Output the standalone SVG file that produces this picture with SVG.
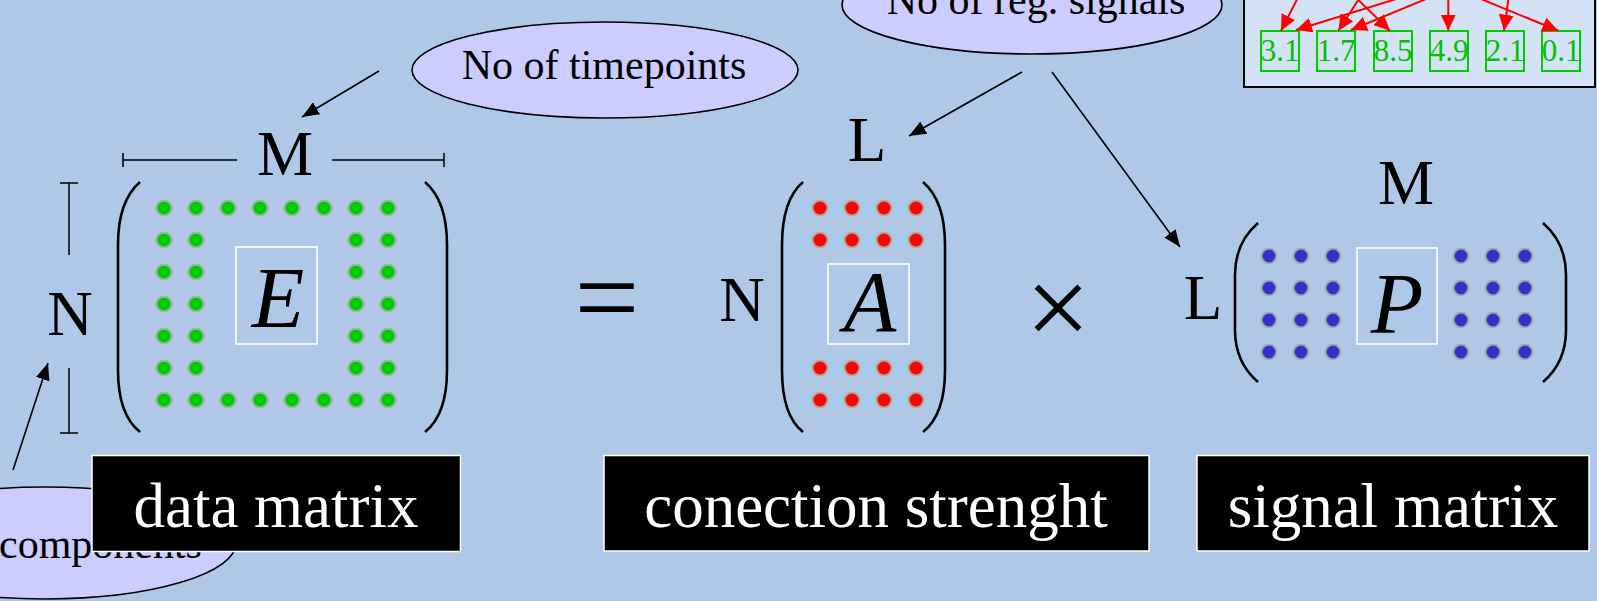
<svg xmlns="http://www.w3.org/2000/svg" width="1597" height="601" viewBox="0 0 1597 601">
<defs>
<style>
.serif{font-family:"Liberation Serif","Times New Roman",serif;}
.ell{fill:#CCCCFF;stroke:#000;stroke-width:1.6;}
.ellt{font-size:42px;fill:#000;}
.lbl{font-size:63px;fill:#000;}
.big{font-size:86px;font-style:italic;fill:#000;}
.op{font-size:115px;fill:#000;}
.paren{fill:none;stroke:#000;stroke-width:2.6;}
.box{fill:none;stroke:#FFFFFF;stroke-width:1.6;}
.g{fill:#00CC00;stroke:#A8ADA4;stroke-width:2;}
.r{fill:#FF0000;stroke:#A8ADA4;stroke-width:2;}
.b{fill:#3333CC;stroke:#A8ADA4;stroke-width:2;}
.dim{stroke:#000;stroke-width:1.5;fill:none;}
.blk{fill:#000;stroke:#FFFFFF;stroke-width:1.5;}
.blkt{font-size:63px;fill:#FFFFFF;text-anchor:middle;}
.gb{fill:none;stroke:#00CC00;stroke-width:2;}
.gt{font-size:31px;fill:#00C000;text-anchor:middle;}
.ka{stroke:#000;stroke-width:1.6;fill:none;marker-end:url(#ah);}
.ra{stroke:#FF0000;stroke-width:2;fill:none;marker-end:url(#rh);}
</style>
<marker id="ah" markerUnits="userSpaceOnUse" markerWidth="18" markerHeight="14" refX="17" refY="7" orient="auto">
<path d="M0,0 L17,7 L0,14 z" fill="#000"/>
</marker>
<marker id="rh" markerUnits="userSpaceOnUse" markerWidth="17" markerHeight="15" refX="16" refY="7.5" orient="auto">
<path d="M0,0 L16,7.5 L0,15 z" fill="#FF0000"/>
</marker>
</defs>
<rect x="0" y="0" width="1597" height="601" fill="#B0C8E8"/>

<g id="network">
<rect x="1244" y="-10" width="351" height="97" fill="#D3E3F5" stroke="#000" stroke-width="2"/>
<g id="n31"><rect class="gb" x="1261" y="31" width="38" height="40"/><text class="serif gt" x="1280" y="61">3.1</text></g>
<g id="n17"><rect class="gb" x="1317" y="31" width="38" height="40"/><text class="serif gt" x="1336" y="61">1.7</text></g>
<g id="n85"><rect class="gb" x="1374" y="31" width="38" height="40"/><text class="serif gt" x="1393" y="61">8.5</text></g>
<g id="n49"><rect class="gb" x="1430" y="31" width="38" height="40"/><text class="serif gt" x="1449" y="61">4.9</text></g>
<g id="n21"><rect class="gb" x="1486" y="31" width="38" height="40"/><text class="serif gt" x="1505" y="61">2.1</text></g>
<g id="n01"><rect class="gb" x="1542" y="31" width="38" height="40"/><text class="serif gt" x="1561" y="61">0.1</text></g>
</g>

<g id="ell-components">
<ellipse class="ell" cx="45" cy="543" rx="191" ry="56"/>
<text class="serif ellt" x="-1" y="558">components</text>
</g>
<g id="ell-timepoints">
<ellipse class="ell" cx="605" cy="70" rx="193" ry="48"/>
<text class="serif ellt" x="604" y="79" text-anchor="middle">No of timepoints</text>
</g>
<g id="ell-signals">
<ellipse class="ell" cx="1032" cy="5" rx="190" ry="49"/>
<text class="serif ellt" x="1036" y="14" text-anchor="middle">No of reg. signals</text>
</g>

<g id="matrix-E">
<path class="paren" d="M140,182 C126,194 118,215 118,245 L118,370 C118,400 126,421 140,432"/>
<path class="paren" d="M425,182 C439,194 447,215 447,245 L447,370 C447,400 439,421 425,432"/>
<g>
<circle class="g" cx="164" cy="208" r="7.5"/><circle class="g" cx="196" cy="208" r="7.5"/><circle class="g" cx="228" cy="208" r="7.5"/><circle class="g" cx="260" cy="208" r="7.5"/><circle class="g" cx="292" cy="208" r="7.5"/><circle class="g" cx="324" cy="208" r="7.5"/><circle class="g" cx="356" cy="208" r="7.5"/><circle class="g" cx="388" cy="208" r="7.5"/>
<circle class="g" cx="164" cy="240" r="7.5"/><circle class="g" cx="196" cy="240" r="7.5"/><circle class="g" cx="356" cy="240" r="7.5"/><circle class="g" cx="388" cy="240" r="7.5"/>
<circle class="g" cx="164" cy="272" r="7.5"/><circle class="g" cx="196" cy="272" r="7.5"/><circle class="g" cx="356" cy="272" r="7.5"/><circle class="g" cx="388" cy="272" r="7.5"/>
<circle class="g" cx="164" cy="304" r="7.5"/><circle class="g" cx="196" cy="304" r="7.5"/><circle class="g" cx="356" cy="304" r="7.5"/><circle class="g" cx="388" cy="304" r="7.5"/>
<circle class="g" cx="164" cy="336" r="7.5"/><circle class="g" cx="196" cy="336" r="7.5"/><circle class="g" cx="356" cy="336" r="7.5"/><circle class="g" cx="388" cy="336" r="7.5"/>
<circle class="g" cx="164" cy="368" r="7.5"/><circle class="g" cx="196" cy="368" r="7.5"/><circle class="g" cx="356" cy="368" r="7.5"/><circle class="g" cx="388" cy="368" r="7.5"/>
<circle class="g" cx="164" cy="400" r="7.5"/><circle class="g" cx="196" cy="400" r="7.5"/><circle class="g" cx="228" cy="400" r="7.5"/><circle class="g" cx="260" cy="400" r="7.5"/><circle class="g" cx="292" cy="400" r="7.5"/><circle class="g" cx="324" cy="400" r="7.5"/><circle class="g" cx="356" cy="400" r="7.5"/><circle class="g" cx="388" cy="400" r="7.5"/>
</g>
<rect class="box" x="236" y="247" width="81" height="97"/>
<text class="serif big" x="278" y="327" text-anchor="middle">E</text>
<text class="serif lbl" x="70" y="335" text-anchor="middle">N</text>
<text class="serif lbl" x="285" y="175" text-anchor="middle">M</text>
<path class="dim" d="M60,183 H78 M69,183 V255 M69,368 V433 M60,433 H78"/>
<path class="dim" d="M123,160 H237 M332,160 H444 M123,153 V167 M444,153 V167"/>
</g>

<g id="equals"><text class="serif op" x="607" y="336" text-anchor="middle">=</text></g>

<g id="matrix-A">
<path class="paren" d="M803,182 C789,194 782,215 782,245 L782,370 C782,400 789,421 803,432"/>
<path class="paren" d="M923,182 C937,194 945,215 945,245 L945,370 C945,400 937,421 923,432"/>
<g>
<circle class="r" cx="820" cy="208" r="7.5"/><circle class="r" cx="852" cy="208" r="7.5"/><circle class="r" cx="884" cy="208" r="7.5"/><circle class="r" cx="916" cy="208" r="7.5"/>
<circle class="r" cx="820" cy="240" r="7.5"/><circle class="r" cx="852" cy="240" r="7.5"/><circle class="r" cx="884" cy="240" r="7.5"/><circle class="r" cx="916" cy="240" r="7.5"/>
<circle class="r" cx="820" cy="368" r="7.5"/><circle class="r" cx="852" cy="368" r="7.5"/><circle class="r" cx="884" cy="368" r="7.5"/><circle class="r" cx="916" cy="368" r="7.5"/>
<circle class="r" cx="820" cy="400" r="7.5"/><circle class="r" cx="852" cy="400" r="7.5"/><circle class="r" cx="884" cy="400" r="7.5"/><circle class="r" cx="916" cy="400" r="7.5"/>
</g>
<rect class="box" x="828" y="264" width="81" height="80"/>
<text class="serif big" x="870" y="331" text-anchor="middle">A</text>
<text class="serif lbl" x="742" y="321" text-anchor="middle">N</text>
<text class="serif lbl" x="867" y="161" text-anchor="middle">L</text>
</g>

<g id="times"><text class="serif op" x="1058" y="346" text-anchor="middle">×</text></g>

<g id="matrix-P">
<path class="paren" d="M1258,223 C1244,235 1235,252 1235,275 L1235,330 C1235,353 1244,370 1258,382"/>
<path class="paren" d="M1543,223 C1557,235 1566,252 1566,275 L1566,330 C1566,353 1557,370 1543,382"/>
<g>
<circle class="b" cx="1269" cy="256" r="7.5"/><circle class="b" cx="1301" cy="256" r="7.5"/><circle class="b" cx="1333" cy="256" r="7.5"/><circle class="b" cx="1461" cy="256" r="7.5"/><circle class="b" cx="1493" cy="256" r="7.5"/><circle class="b" cx="1525" cy="256" r="7.5"/>
<circle class="b" cx="1269" cy="288" r="7.5"/><circle class="b" cx="1301" cy="288" r="7.5"/><circle class="b" cx="1333" cy="288" r="7.5"/><circle class="b" cx="1461" cy="288" r="7.5"/><circle class="b" cx="1493" cy="288" r="7.5"/><circle class="b" cx="1525" cy="288" r="7.5"/>
<circle class="b" cx="1269" cy="320" r="7.5"/><circle class="b" cx="1301" cy="320" r="7.5"/><circle class="b" cx="1333" cy="320" r="7.5"/><circle class="b" cx="1461" cy="320" r="7.5"/><circle class="b" cx="1493" cy="320" r="7.5"/><circle class="b" cx="1525" cy="320" r="7.5"/>
<circle class="b" cx="1269" cy="352" r="7.5"/><circle class="b" cx="1301" cy="352" r="7.5"/><circle class="b" cx="1333" cy="352" r="7.5"/><circle class="b" cx="1461" cy="352" r="7.5"/><circle class="b" cx="1493" cy="352" r="7.5"/><circle class="b" cx="1525" cy="352" r="7.5"/>
</g>
<rect class="box" x="1357" y="248" width="80" height="96"/>
<text class="serif big" x="1397" y="333" text-anchor="middle">P</text>
<text class="serif lbl" x="1203" y="319" text-anchor="middle">L</text>
<text class="serif lbl" x="1406" y="204" text-anchor="middle">M</text>
</g>

<g id="label-data">
<rect class="blk" x="92" y="455.5" width="368.5" height="96"/>
<text class="serif blkt" x="276" y="527">data matrix</text>
</g>
<g id="label-conection">
<rect class="blk" x="604" y="455.5" width="545" height="95.5"/>
<text class="serif blkt" x="876" y="527">conection strenght</text>
</g>
<g id="label-signal">
<rect class="blk" x="1197" y="455.5" width="392" height="95.5"/>
<text class="serif blkt" x="1393" y="527">signal matrix</text>
</g>

<g id="connectors">
<line class="ka" x1="379" y1="71" x2="302" y2="117"/>
<line class="ka" x1="1022" y1="72" x2="909" y2="136"/>
<line class="ka" x1="1052" y1="72" x2="1180" y2="247"/>
<line class="ka" x1="13" y1="470" x2="48" y2="363"/>
<line class="ra" x1="1304.4" y1="-15" x2="1281" y2="30.7"/>
<line class="ra" x1="1441.5" y1="-15" x2="1296" y2="30"/>
<line class="ra" x1="1368" y1="-15" x2="1338.3" y2="30.7"/>
<line class="ra" x1="1460" y1="-15" x2="1351" y2="30"/>
<line class="ra" x1="1342.8" y1="-15" x2="1390" y2="30.7"/>
<line class="ra" x1="1448.3" y1="-15" x2="1448.3" y2="30.7"/>
<line class="ra" x1="1510.4" y1="-15" x2="1504" y2="30.7"/>
<line class="ra" x1="1446.7" y1="-15" x2="1558.3" y2="30.7"/>
</g>
</svg>
